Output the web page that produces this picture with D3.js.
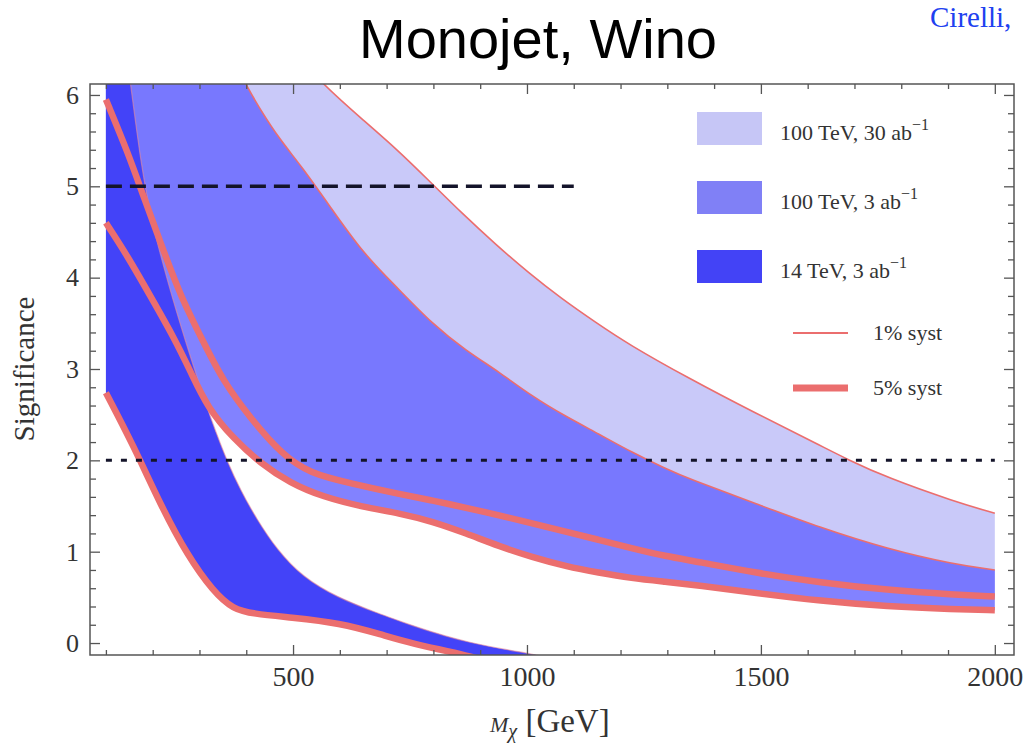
<!DOCTYPE html>
<html>
<head>
<meta charset="utf-8">
<script src="https://cdn.jsdelivr.net/npm/d3@7"></script>
<style>
  body { margin: 0; background: #fff; }
  text { font-family: "Liberation Serif", "Times New Roman", serif; }
</style>
</head>
<body>
<svg id="chart" width="1025" height="744"></svg>
<script>
// ---- data: [M_chi in GeV, significance] ----
// points above 6 / below 0 only keep the curves running past the frame
var w30ab1pct = [[100, 9.8], [250, 8.3], [400, 7.1], [480, 6.6], [562, 6.12], [649, 5.73], [721, 5.41],
    [791, 5.06], [862, 4.70], [934, 4.36], [1004, 4.05], [1074, 3.77], [1147, 3.51], [1217, 3.27],
    [1345, 2.90], [1487, 2.52], [1628, 2.16], [1685, 2.01], [1770, 1.81], [1913, 1.55], [2000, 1.42]];
var w30ab5pct = [[100, 5.95], [147, 5.37], [181, 4.88], [217, 4.38], [260, 3.79], [309, 3.29], [349, 2.88],
    [409, 2.46], [479, 2.05], [536, 1.86], [621, 1.75], [728, 1.63], [798, 1.56], [870, 1.48], [940, 1.40],
    [1011, 1.31], [1083, 1.22], [1153, 1.13], [1223, 1.04], [1296, 0.95], [1366, 0.89], [1487, 0.77],
    [1628, 0.66], [1770, 0.58], [1913, 0.53], [2000, 0.51]];
var w3ab1pct = [[100, 9.5], [200, 8.2], [300, 7.1], [398, 6.12], [430, 5.84], [472, 5.51], [515, 5.24],
    [579, 4.78], [649, 4.27], [721, 3.90], [798, 3.49], [870, 3.20], [940, 2.97], [1011, 2.70], [1083, 2.48],
    [1153, 2.29], [1223, 2.09], [1296, 1.91], [1345, 1.80], [1487, 1.53], [1628, 1.26], [1770, 1.03],
    [1913, 0.86], [2000, 0.80]];
var w3ab5pct = [[100, 4.60], [147, 4.23], [196, 3.79], [245, 3.35], [283, 2.95], [317, 2.58], [372, 2.24],
    [430, 1.97], [494, 1.75], [564, 1.60], [649, 1.49], [728, 1.42], [798, 1.33], [870, 1.20], [940, 1.06],
    [1011, 0.94], [1083, 0.84], [1153, 0.77], [1223, 0.71], [1296, 0.67], [1366, 0.63], [1487, 0.55],
    [1628, 0.46], [1770, 0.40], [1913, 0.37], [2000, 0.36]];
var w14tev1pct = [[100, 8.6], [130, 7.0], [157, 5.95], [175, 5.25], [196, 4.65], [232, 3.95], [270, 3.30],
    [313, 2.62], [338, 2.27], [360, 1.98], [387, 1.68], [423, 1.35], [466, 1.02], [521, 0.72], [594, 0.50],
    [679, 0.33], [749, 0.20], [870, 0.0], [1025, -0.13], [1100, -0.22]];
var w14tev5pct = [[100, 2.74], [160, 2.15], [217, 1.51], [274, 0.96], [330, 0.56], [372, 0.37], [415, 0.32],
    [494, 0.28], [600, 0.22], [691, 0.09], [749, 0.0], [877, -0.14], [950, -0.25]];

var legendLabels = ["100 TeV, 30 ab", "100 TeV, 3 ab", "14 TeV, 3 ab"];
var systLabels = ["1% syst", "5% syst"];
var xMajor = [500, 1000, 1500, 2000];
var yMajor = [0, 1, 2, 3, 4, 5, 6];
var refLines = [{v: 5, from: 100, to: 1100}, {v: 2, from: 100, to: 2000}];

// ---- layout ----
var svg = d3.select("#chart");
var L = 90, R = 1014, T = 84, B = 655;
var x = d3.scaleLinear().domain([66, 2041]).range([L, R]);
var y = d3.scaleLinear().domain([-0.131, 6.12]).range([B, T]);

var bandColors = ["#c9c9f9", "#6666ff", "#4343f8"];
var pink = "#eb6e6e";

var defs = svg.append("defs");
defs.append("clipPath").attr("id", "plotclip")
    .append("rect").attr("x", L).attr("y", T).attr("width", R - L).attr("height", B - T);

var line = d3.line()
    .x(function(d) { return x(d[0]); })
    .y(function(d) { return y(d[1]); })
    .curve(d3.curveBasis);

var plot = svg.append("g").attr("clip-path", "url(#plotclip)");

// band = upper curve forward, lower curve backward, closed
function band(upper, lower, color, opacity) {
    var back = line(lower.slice().reverse());
    plot.append("path")
        .attr("d", line(upper) + "L" + back.slice(1) + "Z")
        .attr("fill", color)
        .attr("fill-opacity", opacity);
}
band(w30ab1pct, w30ab5pct, bandColors[0], 1);
band(w3ab1pct, w3ab5pct, bandColors[1], 0.82);
band(w14tev1pct, w14tev5pct, bandColors[2], 1);

// 1% syst thin lines
[w30ab1pct, w3ab1pct].forEach(function(c) {
    plot.append("path").attr("d", line(c)).attr("fill", "none")
        .attr("stroke", pink).attr("stroke-width", 1.6);
});
plot.append("path").attr("d", line(w14tev1pct)).attr("fill", "none")
    .attr("stroke", "#e88a9a").attr("stroke-width", 1.2).attr("stroke-opacity", 0.6);

// 5% syst thick lines
[w30ab5pct, w3ab5pct, w14tev5pct].forEach(function(c) {
    plot.append("path").attr("d", line(c)).attr("fill", "none")
        .attr("stroke", pink).attr("stroke-width", 6.5);
});

// reference lines
plot.selectAll(".ref").data(refLines).enter().append("line")
    .attr("x1", function(d) { return x(d.from); })
    .attr("x2", function(d) { return x(d.to); })
    .attr("y1", function(d) { return y(d.v); })
    .attr("y2", function(d) { return y(d.v); })
    .attr("stroke", "#14142a")
    .attr("stroke-width", function(d, i) { return i == 0 ? 3.5 : 3; })
    .attr("stroke-dasharray", function(d, i) { return i == 0 ? "16,8" : "6,9"; });

// ---- frame + ticks ----
var xMinor = d3.range(100, 2001, 100).filter(function(v) { return xMajor.indexOf(v) < 0; });
var yMinor = d3.range(0, 31).map(function(i) { return +(i * 0.2).toFixed(1); })
    .filter(function(v) { return v % 1 != 0; });

function tickAxis(axis, vals, size, tr, labels) {
    var g = svg.append("g").attr("transform", tr)
        .call(axis.tickValues(vals).tickSize(-size).tickPadding(labels ? 11 : 0)
            .tickFormat(labels ? d3.format("d") : ""));
    g.select(".domain").remove();
    g.selectAll("line").attr("stroke", "#555").attr("stroke-width", 1.3);
    return g;
}
var gx = tickAxis(d3.axisBottom(x), xMajor, 10, "translate(0," + B + ")", true);
tickAxis(d3.axisBottom(x), xMinor, 5, "translate(0," + B + ")", false);
tickAxis(d3.axisTop(x), xMajor, 10, "translate(0," + T + ")", false);
tickAxis(d3.axisTop(x), xMinor, 5, "translate(0," + T + ")", false);
var gy = tickAxis(d3.axisLeft(y), yMajor, 10, "translate(" + L + ",0)", true);
tickAxis(d3.axisLeft(y), yMinor, 6, "translate(" + L + ",0)", false);
tickAxis(d3.axisRight(y), yMajor, 10, "translate(" + R + ",0)", false);
tickAxis(d3.axisRight(y), yMinor, 6, "translate(" + R + ",0)", false);

gx.selectAll("text").attr("font-size", 28).attr("fill", "#333")
    .style("font-family", "'Liberation Serif', serif");
gy.selectAll("text").attr("font-size", 26).attr("fill", "#333")
    .style("font-family", "'Liberation Serif', serif");

svg.append("rect").attr("x", L).attr("y", T).attr("width", R - L).attr("height", B - T)
    .attr("fill", "none").attr("stroke", "#555").attr("stroke-width", 1.5);

// ---- legend ----
var leg = svg.append("g");
var swY = [112, 181, 250];
var swCol = ["#c6c6f6", "#8080f6", "#4343f6"];
legendLabels.forEach(function(lbl, i) {
    leg.append("rect").attr("x", 697).attr("y", swY[i]).attr("width", 65).attr("height", 33)
        .attr("fill", swCol[i]);
    var t = leg.append("text").attr("x", 780).attr("y", swY[i] + 28)
        .attr("font-size", 22).attr("fill", "#333").text(lbl);
    t.append("tspan").attr("dy", -10).attr("font-size", 16).text("\u22121");
});
systLabels.forEach(function(lbl, i) {
    var ly = 333 + i * 55;
    leg.append("line").attr("x1", 793).attr("x2", 848).attr("y1", ly).attr("y2", ly)
        .attr("stroke", pink).attr("stroke-width", i == 0 ? 2 : 7);
    leg.append("text").attr("x", 873).attr("y", ly + 7).attr("font-size", 22)
        .attr("fill", "#333").text(lbl);
});

// ---- titles ----
svg.append("text").attr("x", 538).attr("y", 58).attr("text-anchor", "middle")
    .style("font-family", "'Liberation Sans', Arial, sans-serif")
    .attr("font-size", 56).attr("fill", "#000").text("Monojet, Wino");
svg.append("text").attr("x", 930).attr("y", 27).attr("font-size", 29)
    .attr("fill", "#2040f0").text("Cirelli,");

svg.append("text").attr("transform", "translate(34,369) rotate(-90)")
    .attr("text-anchor", "middle").attr("font-size", 29).attr("fill", "#333")
    .text("Significance");

var xl = svg.append("text").attr("x", 490).attr("y", 732).attr("fill", "#333");
xl.append("tspan").attr("font-size", 22).attr("font-style", "italic").text("M");
xl.append("tspan").attr("font-size", 20).attr("font-style", "italic").attr("dy", 6).text("\u03c7");
xl.append("tspan").attr("font-size", 33).attr("dy", -6).text(" [GeV]");
</script>
</body>
</html>
